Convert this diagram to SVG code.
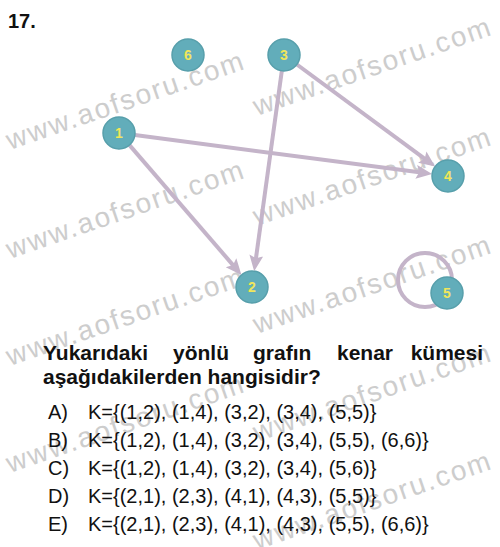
<svg xmlns="http://www.w3.org/2000/svg" width="500" height="547" viewBox="0 0 500 547">
<style>
.wm{font-family:"Liberation Sans",Arial,sans-serif;font-size:28px;letter-spacing:2px;fill:#cdcdcd}
.edge{fill:none;stroke:#c4b4c9;stroke-width:4}
.node{fill:#62adba;stroke:#579fab;stroke-width:1.5}
.lbl{font-family:"Liberation Sans",Arial,sans-serif;font-size:14px;font-weight:bold;fill:#f0e65a;text-anchor:middle}
.q{font-family:"Liberation Sans",Arial,sans-serif;font-size:21px;font-weight:bold;fill:#111}
.opt{font-family:"Liberation Sans",Arial,sans-serif;font-size:20px;fill:#111}
</style>
<defs>
<marker id="arr" markerUnits="userSpaceOnUse" markerWidth="17" markerHeight="15" refX="7" refY="7" orient="auto">
<path d="M0,0 L16,7 L0,14 L3,7 z" fill="#c4b4c9"/>
</marker>
</defs>
<rect width="500" height="547" fill="#fff"/>
<g id="watermarks">
<text class="wm" x="10" y="150" transform="rotate(-19 10 150)">www.aofsoru.com</text>
<text class="wm" x="257" y="116" transform="rotate(-19 257 116)">www.aofsoru.com</text>
<text class="wm" x="10" y="259" transform="rotate(-19 10 259)">www.aofsoru.com</text>
<text class="wm" x="257" y="226" transform="rotate(-19 257 226)">www.aofsoru.com</text>
<text class="wm" x="10" y="366" transform="rotate(-19 10 366)">www.aofsoru.com</text>
<text class="wm" x="257" y="334" transform="rotate(-19 257 334)">www.aofsoru.com</text>
<text class="wm" x="10" y="473" transform="rotate(-19 10 473)">www.aofsoru.com</text>
<text class="wm" x="257" y="442" transform="rotate(-19 257 442)">www.aofsoru.com</text>
<text class="wm" x="257" y="550" transform="rotate(-19 257 550)">www.aofsoru.com</text>
</g>
<text x="8" y="28" font-family="Liberation Sans, Arial, sans-serif" font-size="20" font-weight="bold" fill="#111">17.</text>
<g id="connectors">
<line class="edge" x1="134.9" y1="135.1" x2="423.2" y2="172.8" marker-end="url(#arr)"/>
<line class="edge" x1="129.5" y1="145.1" x2="235.6" y2="268.1" marker-end="url(#arr)"/>
<line class="edge" x1="281.8" y1="70.9" x2="255.4" y2="262.3" marker-end="url(#arr)"/>
<line class="edge" x1="296.9" y1="64.5" x2="427.9" y2="161.2" marker-end="url(#arr)"/>
<circle class="edge" cx="425" cy="280" r="27" stroke-width="3"/>
</g>
<g id="node6"><circle class="node" cx="188" cy="55" r="16"/><text class="lbl" x="188" y="60">6</text></g>
<g id="node3"><circle class="node" cx="284" cy="55" r="16"/><text class="lbl" x="284" y="60">3</text></g>
<g id="node1"><circle class="node" cx="119" cy="133" r="16"/><text class="lbl" x="119" y="138">1</text></g>
<g id="node4"><circle class="node" cx="448" cy="176" r="16"/><text class="lbl" x="448" y="181">4</text></g>
<g id="node2"><circle class="node" cx="252" cy="287" r="16"/><text class="lbl" x="252" y="292">2</text></g>
<g id="node5"><circle class="node" cx="447" cy="293" r="16"/><text class="lbl" x="447" y="298">5</text></g>
<g id="question">
<text class="q" x="43" y="360">Yukarıdaki</text>
<text class="q" x="173" y="360">yönlü</text>
<text class="q" x="253" y="360">grafın</text>
<text class="q" x="337" y="360">kenar</text>
<text class="q" x="483" y="360" text-anchor="end">kümesi</text>
<text class="q" x="43" y="384">aşağıdakilerden hangisidir?</text>
</g>
<g id="options">
<text class="opt" x="48" y="419">A)</text><text class="opt" x="88" y="419">K={(1,2), (1,4), (3,2), (3,4), (5,5)}</text>
<text class="opt" x="48" y="447">B)</text><text class="opt" x="88" y="447">K={(1,2), (1,4), (3,2), (3,4), (5,5), (6,6)}</text>
<text class="opt" x="48" y="475">C)</text><text class="opt" x="88" y="475">K={(1,2), (1,4), (3,2), (3,4), (5,6)}</text>
<text class="opt" x="48" y="503">D)</text><text class="opt" x="88" y="503">K={(2,1), (2,3), (4,1), (4,3), (5,5)}</text>
<text class="opt" x="48" y="531">E)</text><text class="opt" x="88" y="531">K={(2,1), (2,3), (4,1), (4,3), (5,5), (6,6)}</text>
</g>
</svg>
